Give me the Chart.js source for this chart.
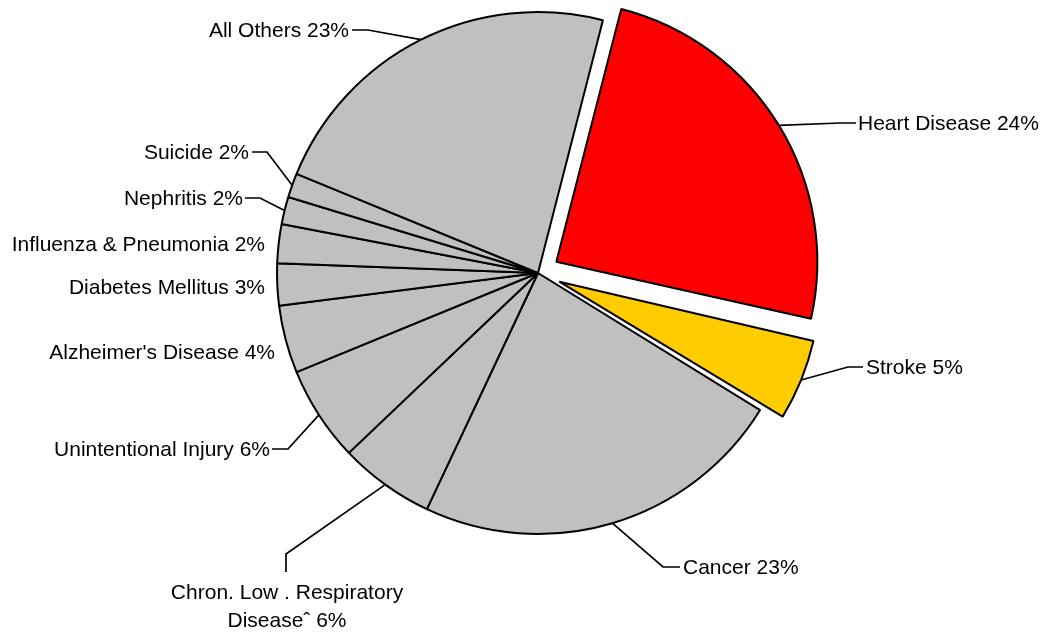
<!DOCTYPE html>
<html>
<head>
<meta charset="utf-8">
<script src="https://cdn.jsdelivr.net/npm/chart.js@4"></script>
<style>
  html, body { margin: 0; padding: 0; background: #fff; }
  #wrap { width: 1047px; height: 632px; position: relative; }
</style>
</head>
<body>
<div id="wrap"><canvas id="c"></canvas></div>
<script>
// ---- data ----
const categories = [
  'Heart Disease', 'Stroke', 'Cancer', 'Chron. Low . Respiratory Disease\u02C6',
  'Unintentional Injury', "Alzheimer's Disease", 'Diabetes Mellitus',
  'Influenza & Pneumonia', 'Nephritis', 'Suicide', 'All Others'
];
const values = [24.5, 5.3, 23.2, 5.9, 5.9, 4.2, 2.6, 2.4, 1.7, 1.5, 22.8];
const percentLabels = ['24%', '5%', '23%', '6%', '6%', '4%', '3%', '2%', '2%', '2%', '23%'];
const labelTexts = [
  ['Heart Disease 24%'], ['Stroke 5%'], ['Cancer 23%'],
  ['Chron. Low . Respiratory', 'Disease\u02C6 6%'],
  ['Unintentional Injury 6%'], ["Alzheimer's Disease 4%"], ['Diabetes Mellitus 3%'],
  ['Influenza & Pneumonia 2%'], ['Nephritis 2%'], ['Suicide 2%'], ['All Others 23%']
];
const explodedCategories = ['Heart Disease', 'Stroke'];

// ---- styles / layout ----
const sliceColors = ['#FF0000', '#FFCC00', '#C0C0C0', '#C0C0C0', '#C0C0C0', '#C0C0C0',
  '#C0C0C0', '#C0C0C0', '#C0C0C0', '#C0C0C0', '#C0C0C0'];
const explodeAmount = { 'Heart Disease': 86, 'Stroke': 92 };
const labelLayout = [
  { elbow: [840, 123], end: [856, 123], text: [858, 124], align: 'left' },
  { elbow: [848, 367], end: [863, 367], text: [866, 368], align: 'left' },
  { elbow: [663, 567], end: [680, 567], text: [683, 568], align: 'left' },
  { elbow: [286, 554], end: [286, 572], text: [287, 593], align: 'center', lineH: 28 },
  { elbow: [288, 449], end: [272, 449], text: [270, 450], align: 'right' },
  { text: [275, 353], align: 'right' },
  { text: [265, 288], align: 'right' },
  { text: [265, 245], align: 'right' },
  { elbow: [260, 198], end: [245, 198], text: [243, 199], align: 'right' },
  { elbow: [267, 152], end: [252, 152], text: [249, 153], align: 'right' },
  { elbow: [368, 30], end: [352, 30], text: [349, 31], align: 'right' }
];

// Chart.js grows the radius of narrow exploded slices; keep the drawn radius equal for all slices.
function radiusGrowth(arc) {
  const circ = arc.endAngle - arc.startAngle;
  const off = (arc.options.offset || 0) / 4;
  return off * (1 - Math.sin(Math.min(Math.PI, circ || 0)));
}
const equalRadius = {
  id: 'equalRadius',
  beforeDatasetsDraw(chart) {
    const meta = chart.getDatasetMeta(0);
    const base = meta.controller.outerRadius;
    meta.data.forEach(arc => {
      arc.outerRadius = base - radiusGrowth(arc);
    });
  }
};

const leaderLabels = {
  id: 'leaderLabels',
  afterDatasetsDraw(chart) {
    const meta = chart.getDatasetMeta(0);
    const ctx = chart.ctx;
    ctx.save();
    ctx.font = '21px "Liberation Sans", Arial, sans-serif';
    ctx.fillStyle = '#000';
    ctx.strokeStyle = '#000';
    ctx.lineWidth = 1.7;
    ctx.textBaseline = 'middle';
    meta.data.forEach((arc, i) => {
      const mid = (arc.startAngle + arc.endAngle) / 2;
      const off = (arc.options.offset || 0) / 4;
      const r = arc.outerRadius + radiusGrowth(arc);
      const cx = arc.x + Math.cos(mid) * off;
      const cy = arc.y + Math.sin(mid) * off;
      const ax = cx + Math.cos(mid) * r;
      const ay = cy + Math.sin(mid) * r;
      const L = labelLayout[i];
      if (L.elbow) {
        ctx.beginPath();
        ctx.moveTo(ax, ay);
        ctx.lineTo(L.elbow[0], L.elbow[1]);
        ctx.lineTo(L.end[0], L.end[1]);
        ctx.stroke();
      }
      ctx.textAlign = L.align;
      labelTexts[i].forEach((t, k) => {
        ctx.fillText(t, L.text[0], L.text[1] + k * (L.lineH || 0));
      });
    });
    ctx.restore();
  }
};

new Chart(document.getElementById('c'), {
  type: 'pie',
  data: {
    labels: categories,
    datasets: [{
      data: values,
      backgroundColor: sliceColors,
      borderColor: '#000',
      borderWidth: 2,
      offset: (c) => explodeAmount[categories[c.dataIndex]] || 0,
      hoverOffset: 0
    }]
  },
  options: {
    responsive: true,
    maintainAspectRatio: false,
    animation: false,
    events: [],
    rotation: 14.4,
    radius: 261,
    layout: { padding: { left: 29, right: 0, top: 0, bottom: 86 } },
    plugins: { legend: { display: false }, tooltip: { enabled: false } }
  },
  plugins: [equalRadius, leaderLabels]
});
</script>
</body>
</html>
